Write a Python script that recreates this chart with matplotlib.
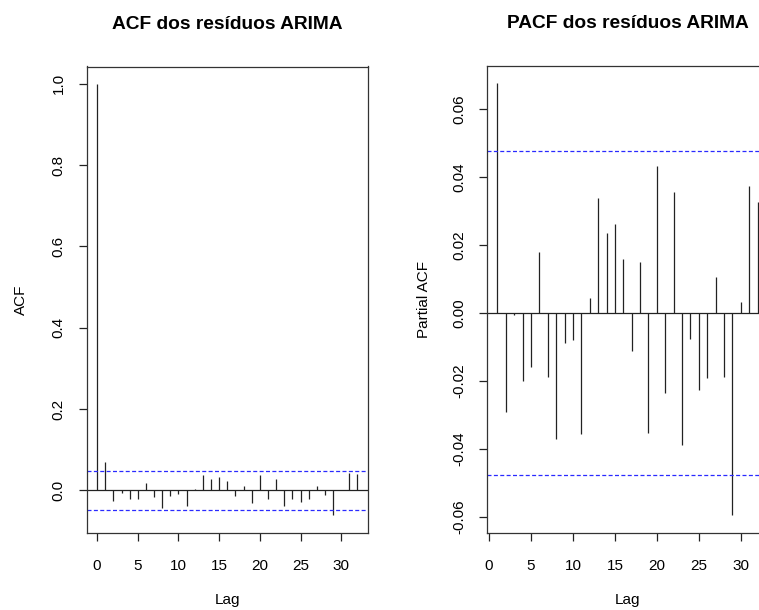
import numpy as np
import matplotlib.pyplot as plt
from matplotlib.ticker import FuncFormatter

plt.rcParams['font.family'] = ['Liberation Sans', 'DejaVu Sans']
plt.rcParams['axes.unicode_minus'] = False

# ACF of the ARIMA residuals, lags 0..32
acf_lags = np.arange(0, 33)
acf_vals = [1.0, 0.0696, -0.025, -0.006, -0.021, -0.020, 0.018, -0.016, -0.042,
            -0.013, -0.008, -0.038, 0.003, 0.038, 0.028, 0.033, 0.023, -0.014,
            0.012, -0.031, 0.038, -0.020, 0.029, -0.038, -0.020, -0.028, -0.021,
            0.010, -0.011, -0.061, 0.002, 0.042, 0.040]

# PACF, lags 1..32
pacf_lags = np.arange(1, 33)
pacf_vals = [0.0676, -0.029, -0.0007, -0.020, -0.0158, 0.0179, -0.0188, -0.037,
             -0.0089, -0.0078, -0.0357, 0.0043, 0.0338, 0.0234, 0.0262, 0.0159,
             -0.0111, 0.015, -0.0352, 0.0434, -0.0236, 0.0355, -0.0387, -0.0075,
             -0.0228, -0.0191, 0.0105, -0.0187, -0.0595, 0.0031, 0.0374, 0.0326]

conf_limit = 0.0476

W, H = 759, 610
fig = plt.figure(figsize=(W / 100, H / 100), dpi=100)

def px_axes(left, right, top, bottom):
    return fig.add_axes([left / W, 1 - bottom / H, (right - left) / W, (bottom - top) / H])

ax1 = px_axes(86.7, 367.9, 66.5, 532.5)
ax2 = px_axes(487.0, 768.0, 66.0, 532.5)


def r_range(lo, hi):
    ext = (hi - lo) * 0.04
    return lo - ext, hi + ext


def draw(ax, lags, vals, title, ylabel, fmt):
    ax.vlines(lags, 0, vals, color='#222222', lw=0.9)
    ax.axhline(0, color='#222222', lw=0.9)
    for c in (conf_limit, -conf_limit):
        ax.axhline(c, color='#2a2aff', lw=0.9, dashes=(3.2, 1.9))
    ax.set_xlim(*r_range(min(lags), max(lags)))
    ax.set_ylim(*r_range(min(min(vals), -conf_limit), max(max(vals), conf_limit)))
    ax.set_xticks([0, 5, 10, 15, 20, 25, 30])
    ax.yaxis.set_major_formatter(FuncFormatter(lambda v, p: fmt % v))
    ax.tick_params(direction='out', length=6, width=0.9, labelsize=11, color='#222222')
    ax.tick_params(axis='x', pad=13)
    ax.tick_params(axis='y', pad=9)
    for s in ax.spines.values():
        s.set_color('#333333')
        s.set_linewidth(0.9)
    ax.set_title(title, fontsize=13.8, fontweight='bold', pad=27)
    ax.set_xlabel('Lag', fontsize=11)
    ax.set_ylabel(ylabel, fontsize=11)
    ax.xaxis.set_label_coords(0.5, -0.13)


draw(ax1, acf_lags, acf_vals, 'ACF dos resíduos ARIMA', 'ACF', '%.1f')
ax1.set_yticks([0.0, 0.2, 0.4, 0.6, 0.8, 1.0])
ax1.yaxis.set_label_coords(-0.21, 0.5)

draw(ax2, pacf_lags, pacf_vals, 'PACF dos resíduos ARIMA', 'Partial ACF', '%.2f')
ax2.set_yticks([-0.06, -0.04, -0.02, 0.0, 0.02, 0.04, 0.06])
ax2.yaxis.set_label_coords(-0.20, 0.5)

for lab in ax1.get_yticklabels() + ax2.get_yticklabels():
    lab.set_rotation(90)
    lab.set_va('center')

plt.savefig('out.png', dpi=100)
